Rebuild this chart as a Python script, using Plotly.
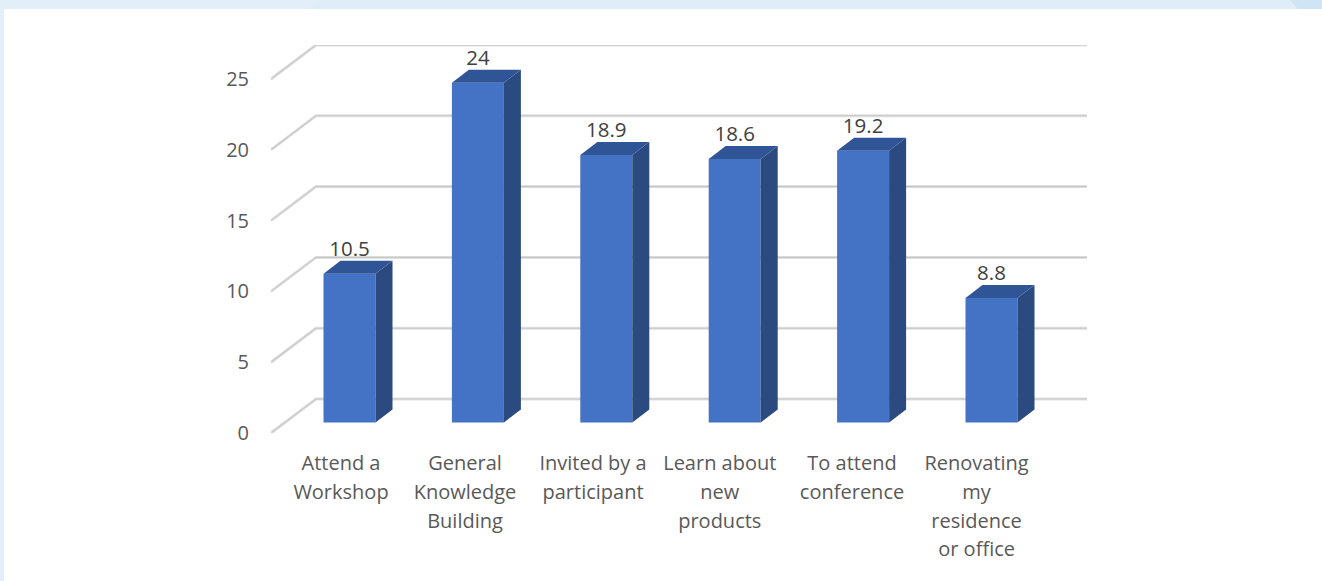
import plotly.graph_objects as go

categories = ["Attend a<br>Workshop", "General<br>Knowledge<br>Building", "Invited by a<br>participant",
              "Learn about<br>new<br>products", "To attend<br>conference", "Renovating<br>my<br>residence<br>or office"]
category_ticks = [0, 0.966, 1.963, 2.95, 3.98, 4.95]
values = [10.5, 24, 18.9, 18.6, 19.2, 8.8]
value_labels = ["10.5", "24", "18.9", "18.6", "19.2", "8.8"]
y_ticks = [0, 5, 10, 15, 20, 25]

W, H = 1322, 581
L, R, T, B = 271, 1087, 45, 433     # plot area in pixels
PX_Y = 14.16                        # pixels per value unit
PX_X = 128.4                        # pixels per category
X0 = 341                            # pixel of first category tick

x_range = [(L - X0) / PX_X, (R - X0) / PX_X]
y_range = [0, (B - T) / PX_Y]

# pseudo 3-D parameters in axis units
wall_dx = 45 / PX_X
wall_dy = 34 / PX_Y
bar_dx = 17 / PX_X
bar_dy = 13 / PX_Y
bar_w = 52 / PX_X
bar_shift = 8.5 / PX_X
bar_base = 10.5 / PX_Y

LABEL = "#595959"
FS = 20


def styled(t):
    return "<br>".join(f"<span style='font-size:{FS}px'>{p}</span>" for p in t.split("<br>"))


def px(x):
    return (x - L) / (R - L)


def py(y):
    return (B - y) / (B - T)


shapes = [
    dict(type="rect", xref="paper", yref="paper", x0=px(4), x1=px(W), y0=py(H), y1=py(9),
         fillcolor="#ffffff", line=dict(width=0), layer="below"),
    dict(type="path", xref="paper", yref="paper",
         path=f"M {px(309)} {py(9)} L {px(318)} {py(0)} L {px(1290)} {py(0)} L {px(1298)} {py(9)} Z",
         fillcolor="#dfedf8", line=dict(width=0), layer="below"),
    dict(type="path", xref="paper", yref="paper",
         path=f"M {px(1298)} {py(9)} L {px(1290)} {py(0)} L {px(W)} {py(0)} L {px(W)} {py(9)} Z",
         fillcolor="#cfe4f5", line=dict(width=0), layer="below"),
]

# wall/floor gridlines, under the bars
for width, color in ((3, "#e0e0e0"), (1.1, "#c8c8c8")):
    for v in y_ticks:
        a = (x_range[0], v)
        b = (x_range[0] + wall_dx, v + wall_dy)
        c = (x_range[1], v + wall_dy)
        shapes.append(dict(type="path", xref="x", yref="y", layer="below",
                           path=f"M {a[0]} {a[1]} L {b[0]} {b[1]} L {c[0]} {c[1]}",
                           line=dict(color=color, width=width)))

fig = go.Figure()

xs = [i + bar_shift for i in range(len(values))]

# front faces
fig.add_trace(go.Bar(x=xs, y=values, base=[bar_base] * len(values), width=bar_w,
                     marker=dict(color="#4472c4", line=dict(width=0)), showlegend=False))

# side and top faces
for xc, v in zip(xs, values):
    xl, xr = xc - bar_w / 2, xc + bar_w / 2
    yb, yt = bar_base, bar_base + v
    fig.add_trace(go.Scatter(x=[xr, xr + bar_dx, xr + bar_dx, xr, xr],
                             y=[yb, yb + bar_dy, yt + bar_dy, yt, yb],
                             mode="lines", fill="toself", fillcolor="#2a4a80",
                             line=dict(width=0), hoverinfo="skip", showlegend=False))
    fig.add_trace(go.Scatter(x=[xl, xl + bar_dx, xr + bar_dx, xr, xl],
                             y=[yt, yt + bar_dy, yt + bar_dy, yt, yt],
                             mode="lines", fill="toself", fillcolor="#2f5597",
                             line=dict(width=0), hoverinfo="skip", showlegend=False))

# data labels
fig.add_trace(go.Scatter(x=xs, y=[bar_base + v + bar_dy for v in values], mode="text",
                         text=value_labels, textposition="top center",
                         textfont=dict(family="Open Sans", size=20.5, color="#404040"),
                         hoverinfo="skip", showlegend=False))

fig.update_layout(
    width=W, height=H, autosize=False,
    margin=dict(l=L, r=W - R, t=T, b=H - B),
    paper_bgcolor="#e2eff9", plot_bgcolor="rgba(0,0,0,0)",
    font=dict(family="Open Sans", color=LABEL),
    barmode="overlay", shapes=shapes, showlegend=False,
    xaxis=dict(range=x_range, showgrid=False, zeroline=False, showline=False,
               tickmode="array", tickvals=category_ticks,
               ticktext=[styled(c) for c in categories],
               ticks="outside", ticklen=10, tickcolor="rgba(0,0,0,0)",
               tickfont=dict(family="Open Sans", size=22, color=LABEL)),
    yaxis=dict(range=y_range, showgrid=False, zeroline=False, showline=False,
               tickmode="array", tickvals=y_ticks,
               ticks="outside", ticklen=17, tickcolor="rgba(0,0,0,0)",
               tickfont=dict(family="Open Sans", size=FS, color=LABEL)),
)

fig.write_html("out.html", config={"displayModeBar": False},
               post_script="document.body.style.margin='0';document.body.style.overflow='hidden';")
